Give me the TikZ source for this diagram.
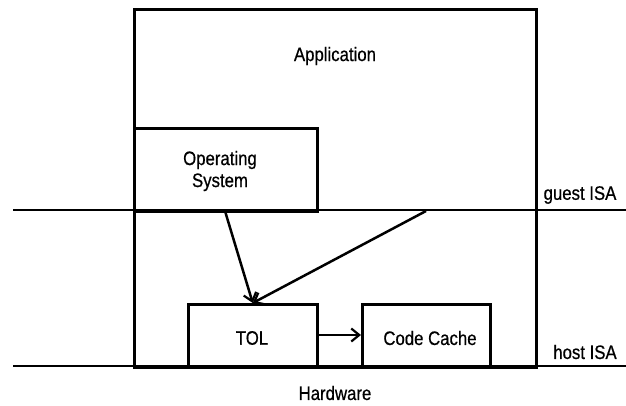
\documentclass[tikz,border=0pt]{standalone}
\usepackage{fontspec}
\setmainfont{Liberation Sans}[FakeStretch=0.86,FakeBold=0.6]
\usetikzlibrary{arrows.meta}
\begin{document}
\begin{tikzpicture}[x=1pt,y=-1pt,
  line width=2.5pt,
  layerbox/.style={draw,rectangle,inner sep=0pt,anchor=north west},
  label/.style={font=\fontsize{19.5}{22}\selectfont,inner sep=0pt,align=center},
  flow/.style={-{Straight Barb[length=8pt,width=13pt,line width=2.2pt]}},
  isaline/.style={line width=2.6pt}]
  \useasboundingbox[fill=white] (0,0) rectangle (626,405);

  % layered blocks
  \node[layerbox,minimum width=402pt,minimum height=358pt] (app) at (133,8) {};
  \node[layerbox,minimum width=183pt,minimum height=83pt] (os) at (133,127) {};
  \node[layerbox,minimum width=129pt,minimum height=63pt] (tol) at (187,303) {};
  \node[layerbox,minimum width=128pt,minimum height=63pt] (cc) at (361,303) {};

  % interface lines
  \coordinate (gl) at (13,210);
  \coordinate (gr) at (626,210);
  \coordinate (hl) at (13,366);
  \coordinate (hr) at (626,366);
  \draw[isaline] (gl) -- (gr);
  \draw[isaline] (hl) -- (hr);

  % labels
  \node[label] (tapp) at (335,56) {Application};
  \node[label] (tos) at (220,171) {Operating\\System};
  \node[label] (ttol) at (252,338) {TOL};
  \node[label] (tcc) at (430,338) {Code Cache};
  \node[label] (tguest) at (580,195) {guest ISA};
  \node[label] (thost) at (585,352) {host ISA};
  \node[label] (thw) at (335,393) {Hardware};

  % control transfers
  \coordinate (osout) at (225,211);
  \coordinate (appout) at (426,211);
  \draw[flow] (osout) -- (tol.north);
  \draw[flow] (appout) -- (tol.north);
  \draw[flow] (tol.east |- 0,335) -- (cc.west |- 0,335);
\end{tikzpicture}
\end{document}
